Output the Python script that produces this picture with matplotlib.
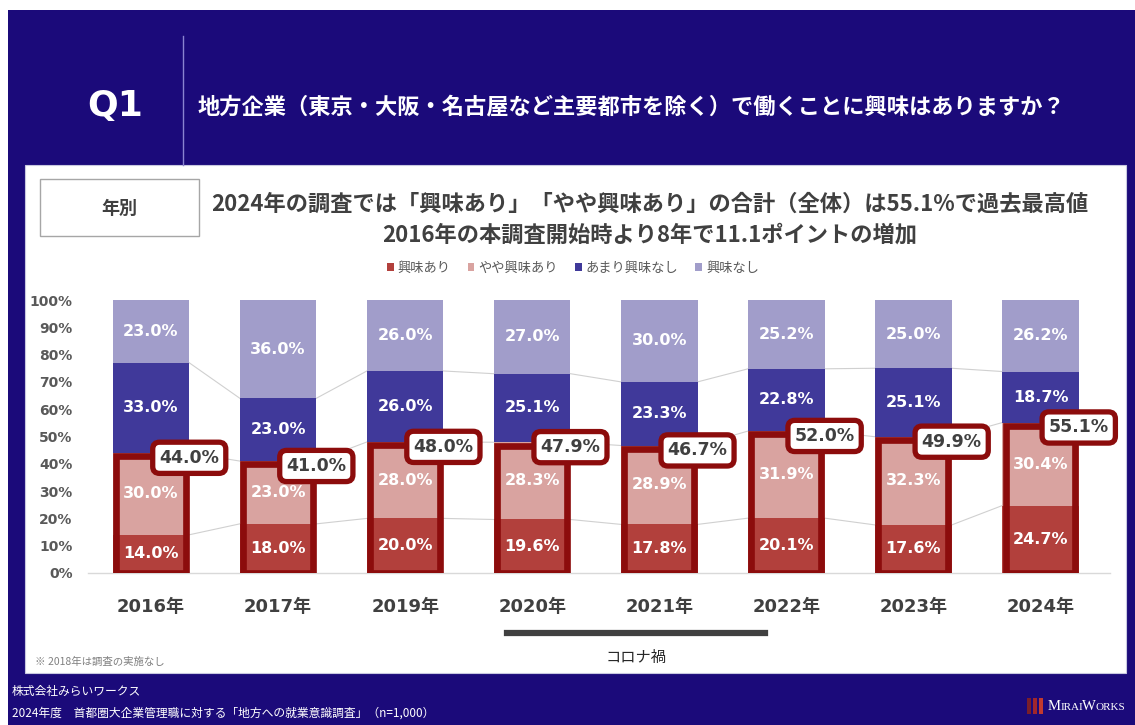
import matplotlib
matplotlib.use('Agg')
import matplotlib.pyplot as plt
from matplotlib.patches import Rectangle
import numpy as np

W, H = 1135, 725
JP = ['Noto Sans CJK JP', 'DejaVu Sans']
MIX = ['DejaVu Sans', 'Noto Sans CJK JP']
plt.rcParams['font.family'] = MIX

years = ['2016年', '2017年', '2019年', '2020年', '2021年', '2022年', '2023年', '2024年']
series_names = ['興味あり', 'やや興味あり', 'あまり興味なし', '興味なし']
interested = [14.0, 18.0, 20.0, 19.6, 17.8, 20.1, 17.6, 24.7]
somewhat = [30.0, 23.0, 28.0, 28.3, 28.9, 31.9, 32.3, 30.4]
not_much = [33.0, 23.0, 26.0, 25.1, 23.3, 22.8, 25.1, 18.7]
not_at_all = [23.0, 36.0, 26.0, 27.0, 30.0, 25.2, 25.0, 26.2]
totals = [44.0, 41.0, 48.0, 47.9, 46.7, 52.0, 49.9, 55.1]
y_ticks = [0, 10, 20, 30, 40, 50, 60, 70, 80, 90, 100]

colors = ['#b2403c', '#d9a3a0', '#40399a', '#a19dca']
navy = '#1b0a7a'
dark_red = '#8c0c0c'
text_gray = '#404040'


def fx(x):
    return x / W


def fy(y):
    return 1 - y / H


fig = plt.figure(figsize=(W / 100, H / 100), dpi=100)
fig.patch.set_facecolor('white')

# background panels (kept below the axes)
fig.patches.append(Rectangle((fx(8), 0), 1 - fx(8), fy(10), transform=fig.transFigure,
                             facecolor=navy, edgecolor='none', zorder=-3))
fig.patches.append(Rectangle((fx(25), fy(673)), fx(1126 - 25), (673 - 165) / H,
                             transform=fig.transFigure, facecolor='white',
                             edgecolor='#c8c8e0', lw=0.8, zorder=-2))
fig.patches.append(Rectangle((fx(40), fy(236)), fx(199 - 40), (236 - 179) / H,
                             transform=fig.transFigure, facecolor='white',
                             edgecolor='#a6a6a6', lw=1.0, zorder=-1))

# header
fig.text(fx(115), fy(106), 'Q1', color='white', fontsize=26, fontweight='bold',
         ha='center', va='center', family='DejaVu Sans')
fig.add_artist(plt.Line2D([fx(183), fx(183)], [fy(36), fy(165)], color='#8a84d0', lw=1.0))
fig.text(fx(198), fy(107), '地方企業（東京・大阪・名古屋など主要都市を除く）で働くことに興味はありますか？',
         color='white', fontsize=16, fontweight='bold', ha='left', va='center', family=JP)

fig.text(fx(119), fy(208), '年別', color=text_gray, fontsize=13, fontweight='bold',
         ha='center', va='center', family=JP)
fig.text(fx(650), fy(204), '2024年の調査では「興味あり」「やや興味あり」の合計（全体）は55.1%で過去最高値',
         color=text_gray, fontsize=16, fontweight='bold', ha='center', va='center', family=JP)
fig.text(fx(650), fy(235), '2016年の本調査開始時より8年で11.1ポイントの増加',
         color=text_gray, fontsize=16, fontweight='bold', ha='center', va='center', family=JP)

# chart
ax = fig.add_axes([fx(88), fy(573), (1110 - 88) / W, 273 / H])
ax.set_facecolor('none')
x = np.arange(len(years))
w = 0.602
stack = [interested, somewhat, not_much, not_at_all]
bottom = np.zeros(len(years))
bars = []
for vals, col, name in zip(stack, colors, series_names):
    b = ax.bar(x, vals, w, bottom=bottom, color=col, label=name, zorder=3)
    bars.append(b)
    for xi, v, b0 in zip(x, vals, bottom):
        ax.text(xi, b0 + v / 2, f'{v:.1f}%', color='white', fontsize=11.5,
                fontweight='bold', ha='center', va='center', zorder=6)
    bottom = bottom + np.array(vals)
    if len(bars) < 4:
        for i in range(len(years) - 1):
            ax.plot([x[i] + w / 2, x[i + 1] - w / 2], [bottom[i], bottom[i + 1]],
                    color='#d0d0d0', lw=0.8, zorder=2)

# red outline around the two "interested" segments
dx, dy = 3.3 / 127.07, 3.3 / 2.73
ax.bar(x, np.array(totals) - dy, w - 2 * dx, bottom=0, fill=False,
       edgecolor=dark_red, lw=4.8, zorder=4)
for xi, t in zip(x, totals):
    ax.text(xi + w / 2, t - 1.8, f'{t:.1f}%', color=text_gray, fontsize=12.5,
            fontweight='bold', ha='center', va='center', zorder=7,
            bbox=dict(boxstyle='round,pad=0.38,rounding_size=0.4', facecolor='white',
                      edgecolor=dark_red, lw=3.8))

ax.set_xlim(-63 / 127.07, (1110 - 151) / 127.07)
ax.set_ylim(0, 100)
ax.set_yticks(y_ticks)
ax.set_yticklabels([f'{t}%' for t in y_ticks], fontsize=10, fontweight='bold', color='#595959')
ax.set_xticks(x)
ax.set_xticklabels(years, fontsize=13, fontweight='bold', color=text_gray)
ax.tick_params(axis='y', length=0, pad=11)
ax.tick_params(axis='x', length=0, pad=18)
for s in ['top', 'right', 'left']:
    ax.spines[s].set_visible(False)
ax.spines['bottom'].set_color('#d9d9d9')
ax.spines['bottom'].set_linewidth(1.0)

leg = fig.legend(handles=bars, labels=series_names, loc='center', ncol=4,
                 bbox_to_anchor=(fx(573), fy(268)), frameon=False,
                 prop={'family': JP, 'size': 9.5}, handlelength=0.5, handleheight=0.5,
                 handletextpad=0.3, columnspacing=1.3)
for t in leg.get_texts():
    t.set_color('#595959')

# corona period
fig.add_artist(plt.Line2D([fx(507), fx(765)], [fy(633), fy(633)], color='#404040', lw=4.5))
fig.text(fx(636), fy(657), 'コロナ禍', color='#262626', fontsize=11, ha='center',
         va='center', family=JP)
fig.text(fx(35), fy(662), '※ 2018年は調査の実施なし', color='#808080', fontsize=7.5,
         ha='left', va='center', family=JP)

# footer
fig.text(fx(12), fy(691), '株式会社みらいワークス', color='white', fontsize=8.5,
         ha='left', va='center', family=JP)
fig.text(fx(12), fy(713), '2024年度　首都圏大企業管理職に対する「地方への就業意識調査」（n=1,000）',
         color='white', fontsize=8.5, ha='left', va='center', family=JP)
for i, c in enumerate(['#7a1f2a', '#a0262c', '#c23a2e']):
    fig.patches.append(Rectangle((fx(1027 + i * 6), fy(714)), fx(4), 16 / H,
                                 transform=fig.transFigure, facecolor=c,
                                 edgecolor='none', zorder=3))
fig.text(fx(1048), fy(706), 'M', color='white', fontsize=10.5, ha='left', va='center',
         family='Liberation Serif')
fig.text(fx(1061), fy(707), 'IRAI', color='white', fontsize=8, ha='left', va='center',
         family='Liberation Serif')
fig.text(fx(1082), fy(706), 'W', color='white', fontsize=10.5, ha='left', va='center',
         family='Liberation Serif')
fig.text(fx(1096), fy(707), 'ORKS', color='white', fontsize=8, ha='left', va='center',
         family='Liberation Serif')

fig.savefig('out.png', dpi=100)
